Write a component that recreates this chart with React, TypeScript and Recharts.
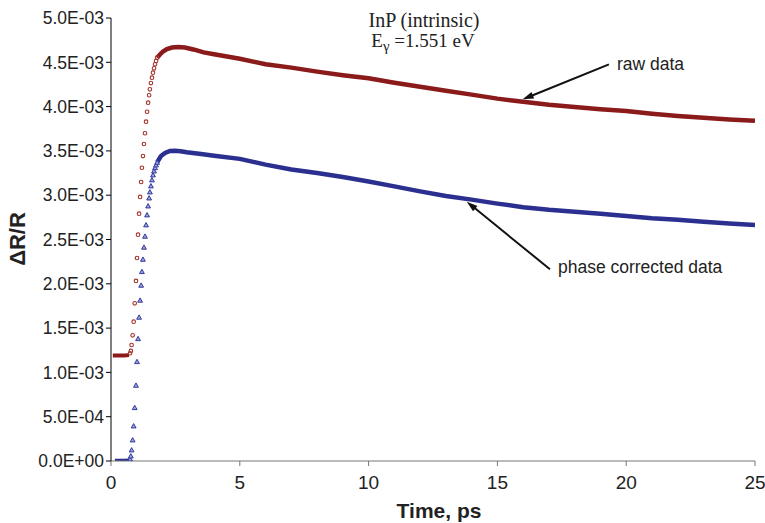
import React from 'react';
import { ComposedChart, Line, Scatter, XAxis, YAxis, ReferenceLine } from 'recharts';

// All ΔR/R values are in units of 1E-3
const xTicks = [0, 5, 10, 15, 20, 25];
const yTicks = [0, 0.5, 1, 1.5, 2, 2.5, 3, 3.5, 4, 4.5, 5];

// pre-rise flat parts
const rawFlatT = [0.07, 0.3, 0.5, 0.7];
const rawFlatV = [1.19, 1.19, 1.19, 1.195];
const corrFlatT = [0.15, 0.3, 0.5, 0.7];
const corrFlatV = [0.005, 0.005, 0.005, 0.008];

// rise (individual markers visible)
const riseT = [0.74, 0.77, 0.8, 0.84, 0.88, 0.92, 0.97, 1.01, 1.05, 1.09, 1.13, 1.17, 1.2, 1.24, 1.28, 1.32, 1.36, 1.4, 1.44, 1.48, 1.51, 1.55, 1.59, 1.63, 1.67, 1.71, 1.75, 1.79];
const rawRiseV = [1.216, 1.242, 1.309, 1.419, 1.572, 1.78, 2.032, 2.291, 2.554, 2.791, 2.98, 3.149, 3.31, 3.442, 3.578, 3.699, 3.83, 3.942, 4.044, 4.128, 4.195, 4.266, 4.326, 4.383, 4.432, 4.477, 4.515, 4.552];
const corrRiseV = [0.023, 0.056, 0.124, 0.237, 0.395, 0.602, 0.854, 1.121, 1.38, 1.622, 1.814, 1.983, 2.137, 2.276, 2.412, 2.536, 2.664, 2.777, 2.878, 2.968, 3.036, 3.104, 3.172, 3.228, 3.273, 3.31, 3.341, 3.37];

// dense part (peak and decay)
const rawDecayT = [1.79, 1.9, 2.02, 2.17, 2.37, 2.6, 2.87, 3.2, 3.6, 4, 5, 6, 7, 8, 9, 10, 11, 12, 13, 14, 15, 16, 17, 18, 19, 20, 21, 22, 23, 24, 25];
const rawDecayV = [4.552, 4.588, 4.622, 4.65, 4.667, 4.673, 4.667, 4.645, 4.612, 4.59, 4.54, 4.478, 4.44, 4.395, 4.355, 4.32, 4.27, 4.225, 4.18, 4.135, 4.09, 4.055, 4.02, 3.995, 3.97, 3.95, 3.92, 3.895, 3.875, 3.855, 3.84];
const corrDecayT = [1.79, 1.94, 2.1, 2.29, 2.48, 2.7, 2.94, 3.57, 4, 5, 6, 7, 8, 9, 10, 11, 12, 13, 14, 15, 16, 17, 18, 19, 20, 21, 22, 23, 24, 25];
const corrDecayV = [3.37, 3.442, 3.476, 3.499, 3.502, 3.497, 3.484, 3.462, 3.445, 3.41, 3.345, 3.29, 3.25, 3.205, 3.155, 3.1, 3.043, 2.99, 2.95, 2.905, 2.865, 2.835, 2.813, 2.79, 2.765, 2.74, 2.722, 2.7, 2.68, 2.665];

// annotation anchors (data coordinates): [start, tip]
const rawArrow = [{ x: 19.33, y: 4.477 }, { x: 15.98, y: 4.082 }];
const corrArrow = [{ x: 17.04, y: 2.164 }, { x: 13.81, y: 2.927 }];

const zip = (t: number[], v: number[]) => t.map((x, i) => ({ t: x, v: v[i] }));

const rawFlat = zip(rawFlatT, rawFlatV);
const corrFlat = zip(corrFlatT, corrFlatV);
const rawRise = zip(riseT, rawRiseV);
const corrRise = zip(riseT, corrRiseV);
const rawDecay = zip(rawDecayT, rawDecayV);
const corrDecay = zip(corrDecayT, corrDecayV);

const RED = '#8B1A1A';
const BLUE = '#2B2F8F';
const FONT = '"Liberation Sans", Arial, Helvetica, sans-serif';

const fmt = (v: number) => {
  const val = v * 1e-3;
  if (Math.abs(val) < 1e-12) return '0.0E+00';
  const e = Math.floor(Math.log10(val) + 1e-9);
  const m = val / Math.pow(10, e);
  const sign = e < 0 ? '-' : '+';
  return `${m.toFixed(1)}E${sign}${String(Math.abs(e)).padStart(2, '0')}`;
};

const circleShape = (p: any) => (
  <circle cx={p.cx} cy={p.cy} r={1.8} fill="none" stroke="#A3322C" strokeWidth={1.1} />
);
const triShape = (p: any) => {
  const { cx, cy } = p;
  const s = 2.4;
  return (
    <path
      d={`M${cx},${cy - s} L${cx + s},${cy + s * 0.8} L${cx - s},${cy + s * 0.8} Z`}
      fill="#9DA2DA"
      stroke="#343A9E"
      strokeWidth={1}
    />
  );
};

const makeArrow = (label: string, dx: number, dy: number) => (props: any) => {
  const { x1, y1, x2, y2 } = props;
  const ang = Math.atan2(y2 - y1, x2 - x1);
  const L = 11;
  const W = 3.5;
  const bx = x2 - L * Math.cos(ang);
  const by = y2 - L * Math.sin(ang);
  const px = -Math.sin(ang) * W;
  const py = Math.cos(ang) * W;
  return (
    <g>
      <line x1={x1} y1={y1} x2={bx + 2 * Math.cos(ang)} y2={by + 2 * Math.sin(ang)} stroke="#111" strokeWidth={2} />
      <polygon points={`${x2},${y2} ${bx + px},${by + py} ${bx - px},${by - py}`} fill="#111" />
      <text x={x1 + dx} y={y1 + dy} fontSize={17.5} fill="#222" style={{ fontFamily: FONT }}>
        {label}
      </text>
    </g>
  );
};

export default function App() {
  return (
    <div style={{ position: 'absolute', left: 0, top: 0, width: 765, height: 523, background: '#fff', fontFamily: FONT }}>
      <ComposedChart width={765} height={523} margin={{ top: 18, right: 10, bottom: 0, left: 31 }}>
        <XAxis
          type="number"
          dataKey="t"
          domain={[0, 25]}
          ticks={xTicks}
          interval={0}
          height={62}
          allowDataOverflow
          stroke="#777"
          tickSize={5}
          tickMargin={10}
          tick={{ fontSize: 19, fill: '#222' }}
          label={{ value: 'Time, ps', position: 'insideBottom', offset: 5, dx: 6, fontSize: 21, fontWeight: 'bold', fill: '#222' }}
        />
        <YAxis
          type="number"
          dataKey="v"
          domain={[0, 5]}
          ticks={yTicks}
          interval={0}
          width={80}
          allowDataOverflow
          stroke="#000"
          tickSize={5}
          tickMargin={2}
          tickFormatter={fmt}
          tick={{ fontSize: 17.5, fill: '#222' }}
        />
        <Line data={rawFlat} dataKey="v" stroke={RED} strokeWidth={4} dot={false} activeDot={false} isAnimationActive={false} type="linear" />
        <Line data={corrFlat} dataKey="v" stroke={BLUE} strokeWidth={3.5} dot={false} activeDot={false} isAnimationActive={false} type="linear" />
        <Line data={rawDecay} dataKey="v" stroke={RED} strokeWidth={4.5} dot={false} activeDot={false} isAnimationActive={false} type="linear" />
        <Line data={corrDecay} dataKey="v" stroke={BLUE} strokeWidth={4.5} dot={false} activeDot={false} isAnimationActive={false} type="linear" />
        <Scatter data={rawRise} dataKey="v" shape={circleShape} isAnimationActive={false} />
        <Scatter data={corrRise} dataKey="v" shape={triShape} isAnimationActive={false} />
        <ReferenceLine segment={rawArrow} shape={makeArrow('raw data', 8, 6)} />
        <ReferenceLine segment={corrArrow} shape={makeArrow('phase corrected data', 8, 4)} />
      </ComposedChart>
      <svg width={765} height={523} style={{ position: 'absolute', left: 0, top: 0, pointerEvents: 'none' }}>
        <text x={424} y={26.5} textAnchor="middle" fontSize={20} fill="#222" style={{ fontFamily: '"Liberation Serif", "Times New Roman", serif' }}>
          InP (intrinsic)
        </text>
        <text x={423} y={46.5} textAnchor="middle" fontSize={19} fill="#222" style={{ fontFamily: '"Liberation Serif", "Times New Roman", serif' }}>
          E<tspan dy={4} fontSize={15}>γ</tspan>
          <tspan dy={-4}> =1.551 eV</tspan>
        </text>
        <text transform="translate(25,239) rotate(-90)" textAnchor="middle" fontSize={22} fontWeight="bold" fill="#222" style={{ fontFamily: FONT }}>
          ΔR/R
        </text>
      </svg>
    </div>
  );
}
